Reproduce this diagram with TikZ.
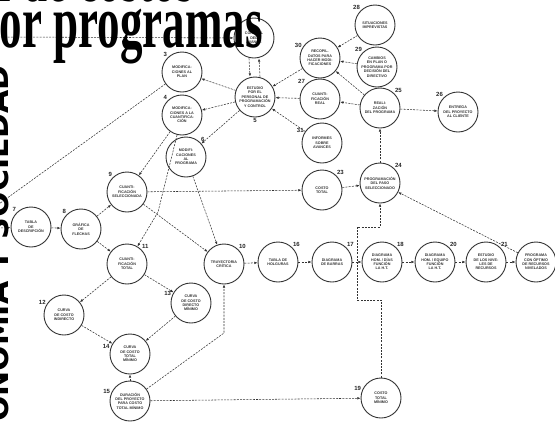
\documentclass[tikz,border=0pt]{standalone}
\usepackage{fontspec}
\setsansfont{Liberation Sans}
\newfontfamily\titulofont[FakeStretch=0.6]{Liberation Serif}
\newfontfamily\lomofont{DejaVu Sans}
\usetikzlibrary{arrows.meta}

\begin{document}
\begin{tikzpicture}[x=1pt, y=-1pt,
    paso/.style={circle, draw=black!80, line width=0.9pt, fill=white, minimum size=40pt,
      inner sep=0pt, align=center, text=black!80,
      font=\sffamily\bfseries\fontsize{3.7}{4.4}\selectfont},
    num/.style={font=\sffamily\bfseries\fontsize{6}{6}\selectfont, text=black!85, inner sep=0.5pt},
    flecha/.style={draw=black!80, line width=0.55pt, dash pattern=on 2pt off 1.2pt,
      -{Latex[length=3.2pt,width=2.6pt]}},
    titulo/.style={anchor=base east, inner sep=0pt, text=black,
      font=\titulofont\bfseries\fontsize{75}{75}\selectfont}
  ]
  \useasboundingbox (0,0) rectangle (555,421);

  % planeacion y estudio
  \node[paso] (n2) at (254,38) {CONTROL\\DEL\\AVANCE};
  \node[paso, label={[num]135:3}] (n3) at (182,72) {MODIFICA-\\CIONES AL\\PLAN};
  \node[paso, label={[num]135:4}] (n4) at (182,115) {MODIFICA-\\CIONES A LA\\CUANTIFICA-\\CI\'ON};
  \node[paso, label={[num]below:5}] (n5) at (255,97) {ESTUDIO\\POR EL\\PERSONAL DE\\PROGRAMACI\'ON\\Y CONTROL};
  \node[paso, label={[num]45:6}] (n6) at (186,157) {MODIFI-\\CACIONES\\AL\\PROGRAMA};

  % red de la izquierda
  \node[paso, label={[num]135:7}] (n7) at (31,227) {TABLA\\DE\\DESCRIPCI\'ON};
  \node[paso, label={[num]135:8}] (n8) at (81,229) {GR\'AFICA\\DE\\FLECHAS};
  \node[paso, label={[num]135:9}] (n9) at (127,192) {CUANTI-\\FICACI\'ON\\SELECCIONADA};
  \node[paso, label={[num]45:11}] (n11) at (127,264) {CUANTI-\\FICACI\'ON\\TOTAL};
  \node[paso, label={[num]150:12}] (n12) at (64,315) {CURVA\\DE COSTO\\INDIRECTO};
  \node[paso, label={[num]160:13}] (n13) at (191,303) {CURVA\\DE COSTO\\DIRECTO\\M\'INIMO};
  \node[paso, label={[num]165:14}] (n14) at (130,354) {CURVA\\DE COSTO\\TOTAL\\M\'INIMO};
  \node[paso, label={[num]160:15}] (n15) at (130,401) {DURACI\'ON\\DEL PROYECTO\\PARA COSTO\\TOTAL M\'INIMO};
  \node[paso, label={[num]160:19}] (n19) at (381,398) {COSTO\\TOTAL\\M\'INIMO};

  % cadena central
  \node[paso, label={[num]45:10}] (n10) at (224,264) {TRAYECTORIA\\CR\'ITICA};
  \node[paso, label={[num]45:16}] (n16) at (278,262) {TABLA DE\\HOLGURAS};
  \node[paso, label={[num]45:17}] (n17) at (332,262) {DIAGRAMA\\DE BARRAS};
  \node[paso, label={[num]45:18}] (n18) at (382,262) {DIAGRAMA\\HOM. / D\'IAS\\FUNCI\'ON\\LA H.T.};
  \node[paso, label={[num]45:20}] (n20) at (435,262) {DIAGRAMA\\HOM. / EQUIPO\\FUNCI\'ON\\LA H.T.};
  \node[paso, label={[num]45:21}] (n21) at (486,262) {ESTUDIO\\DE LOS NIVE-\\LES DE\\RECURSOS};
  \node[paso] (n22) at (536,262) {PROGRAMA\\CON \'OPTIMO\\DE RECURSOS\\NIVELADOS};

  % ejecucion
  \node[paso, label={[num]45:23}] (n23) at (322,190) {COSTO\\TOTAL};
  \node[paso, label={[num]45:24}] (n24) at (380,183) {PROGRAMACI\'ON\\DEL PASO\\SELECCIONADO};
  \node[paso, label={[num]45:25}] (n25) at (380,108) {REALI-\\ZACI\'ON\\DEL PROGRAMA};
  \node[paso, label={[num]135:26}] (n26) at (458,112) {ENTREGA\\DEL PROYECTO\\AL CLIENTE};
  \node[paso, label={[num]135:27}] (n27) at (320,99) {CUANTI-\\FICACI\'ON\\REAL};
  \node[paso, label={[num]135:28}] (n28) at (375,25) {SITUACIONES\\IMPREVISTAS};
  \node[paso, label={[num]135:29}] (n29) at (377,67) {CAMBIOS\\EN PLAN O\\PROGRAMA POR\\DECISI\'ON DEL\\DIRECTIVO};
  \node[paso, label={[num]150:30}] (n30) at (320,58) {RECOPIL.\\DATOS PARA\\HACER MODI-\\FICACIONES};
  \node[paso, label={[num]150:31}] (n31) at (322,143) {INFORMES\\SOBRE\\AVANCES};

  % extremos libres y quiebres
  \coordinate (k1a) at (-2,37);
  \coordinate (k1b) at (-2,228);
  \coordinate (k1c) at (-8,209);
  \coordinate (k4) at (158,212);
  \coordinate (k15) at (224,333);
  \coordinate (k19a) at (357,300);
  \coordinate (k19b) at (357,227);

  \draw[flecha] (k1a) -- (n2);
  \draw[flecha] (k1b) -- (n7);
  \draw[flecha] (n3) -- (k1c);
  \draw[flecha] ([xshift=-5pt]n2.south) -- ([xshift=-5pt]n5.north);
  \draw[flecha] ([xshift=5pt]n5.north) -- ([xshift=5pt]n2.south);
  \draw[flecha] (n5) -- (n3);
  \draw[flecha] (n5) -- (n4);
  \draw[flecha] (n5) -- (n6);
  \draw[flecha] (n30) -- (n5);
  \draw[flecha] (n27) -- (n5);
  \draw[flecha] (n31) -- (n5);
  \draw[flecha] (n28) -- (n30);
  \draw[flecha] (n29) -- (n30);
  \draw[flecha] (n25) -- (n30);
  \draw[flecha] (n25) -- (n27);
  \draw[flecha] (n25) -- (n26);
  \draw[flecha] (n24) -- (n25);
  \draw[flecha] (n23) -- (n24);
  \draw[flecha] (n22) -- (n24);
  \draw[flecha] (n7) -- (n8);
  \draw[flecha] (n8) -- (n9);
  \draw[flecha] (n8) -- (n11);
  \draw[flecha] (n4) -- (n9);
  \draw[flecha] (n4) -- (k4) -- (n11);
  \draw[flecha] (n9) -- (n23);
  \draw[flecha] (n9) -- (n10);
  \draw[flecha] (n6) -- (n10);
  \draw[flecha] (n11) -- (n12);
  \draw[flecha] (n11) -- (n13);
  \draw[flecha] (n12) -- (n14);
  \draw[flecha] (n13) -- (n14);
  \draw[flecha] (n15) -- (n14);
  \draw[flecha] (n15) -- (k15) -- (n10);
  \draw[flecha] (n15) -- (n19);
  \draw[flecha] (n10) -- (n16);
  \draw[flecha] (n16) -- (n17);
  \draw[flecha] (n17) -- (n18);
  \draw[flecha] (n18) -- (n20);
  \draw[flecha] (n20) -- (n21);
  \draw[flecha] (n21) -- (n22);
  \draw[flecha] (n19) |- (k19a) -- (k19b) -| (n24);

  % titulo y lomo
  \node[titulo] (titulo1) at (194,1) {Control de costos};
  \node[titulo] (titulo2) at (263,47) {por programas};
  \node[rotate=90, anchor=base east, inner sep=0pt,
    font=\lomofont\bfseries\fontsize{30}{30}\selectfont] (lomo) at (9,65) {ECONOM\'IA Y SOCIEDAD};
\end{tikzpicture}
\end{document}
